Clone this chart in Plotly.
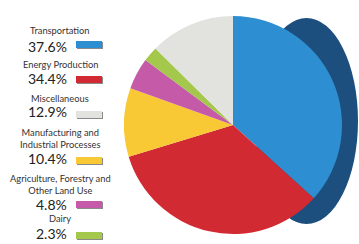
import plotly.graph_objects as go

# Data (clockwise order on the pie, starting at 12 o'clock)
categories = ["Transportation", "Energy Production", "Manufacturing and Industrial Processes",
              "Agriculture, Forestry and Other Land Use", "Dairy", "Miscellaneous"]
values = [37.6, 34.4, 10.4, 4.8, 2.3, 12.9]
colors = ["#2d8fd2", "#d22a32", "#f8c935", "#c55aa8", "#a4c84b", "#e2e2df"]

# Legend order (top to bottom) and display labels
legend_order = ["Transportation", "Energy Production", "Miscellaneous",
                "Manufacturing and Industrial Processes",
                "Agriculture, Forestry and Other Land Use", "Dairy"]
legend_labels = ["Transportation", "Energy Production", "Miscellaneous",
                 "Manufacturing and<br>Industrial Processes",
                 "Agriculture, Forestry and<br>Other Land Use", "Dairy"]

W, H = 359, 244

fig = go.Figure()
fig.add_trace(go.Pie(
    labels=categories, values=values, sort=False, direction="clockwise", rotation=0,
    marker=dict(colors=colors, line=dict(width=0)),
    textinfo="none", hoverinfo="label+percent", showlegend=False,
    domain=dict(x=[124 / W, 342 / W], y=[1 - 237 / H, 1 - 13 / H]),
))

def px(x):
    return x / W

def py(y):
    return 1 - y / H

shapes = [
    # 3D edge of the disc
    dict(type="circle", xref="paper", yref="paper", layer="below",
         x0=px(255), x1=px(358), y0=py(224), y1=py(18),
         fillcolor="#1d4f7e", line=dict(width=0)),
]

# legend rows: (label center y, percent center y, swatch top y)
label_y = [31, 64, 98, 138, 184, 218]
pct_y = [46, 78, 111, 158, 204, 233]
sw_y = [41, 76, 111, 157, 201, 232]

annotations = []
for name, lab, ly, pyy, sy in zip(legend_order, legend_labels, label_y, pct_y, sw_y):
    i = categories.index(name)
    annotations.append(dict(text=lab, x=px(60), y=py(ly), xref="paper", yref="paper",
                            xanchor="center", yanchor="middle", showarrow=False,
                            font=dict(family="Lato, sans-serif", size=9.3, color="#333333")))
    annotations.append(dict(text=f"{values[i]}%", x=px(69), y=py(pyy), xref="paper", yref="paper",
                            xanchor="right", yanchor="middle", showarrow=False,
                            font=dict(family="Lato, sans-serif", size=14, color="#222222")))
    shapes.append(dict(type="rect", xref="paper", yref="paper",
                       x0=px(77), x1=px(103), y0=py(sy + 8), y1=py(sy + 1),
                       fillcolor="#8a8a8a", line=dict(width=0)))
    shapes.append(dict(type="rect", xref="paper", yref="paper",
                       x0=px(76), x1=px(102), y0=py(sy + 7), y1=py(sy),
                       fillcolor=colors[i], line=dict(width=0)))

fig.update_layout(width=W, height=H, margin=dict(l=0, r=0, t=0, b=0),
                  paper_bgcolor="white", plot_bgcolor="white",
                  shapes=shapes, annotations=annotations)

fig.write_html("out.html", config={"displayModeBar": False},
               post_script="document.body.style.margin='0';document.body.style.overflow='hidden';")
